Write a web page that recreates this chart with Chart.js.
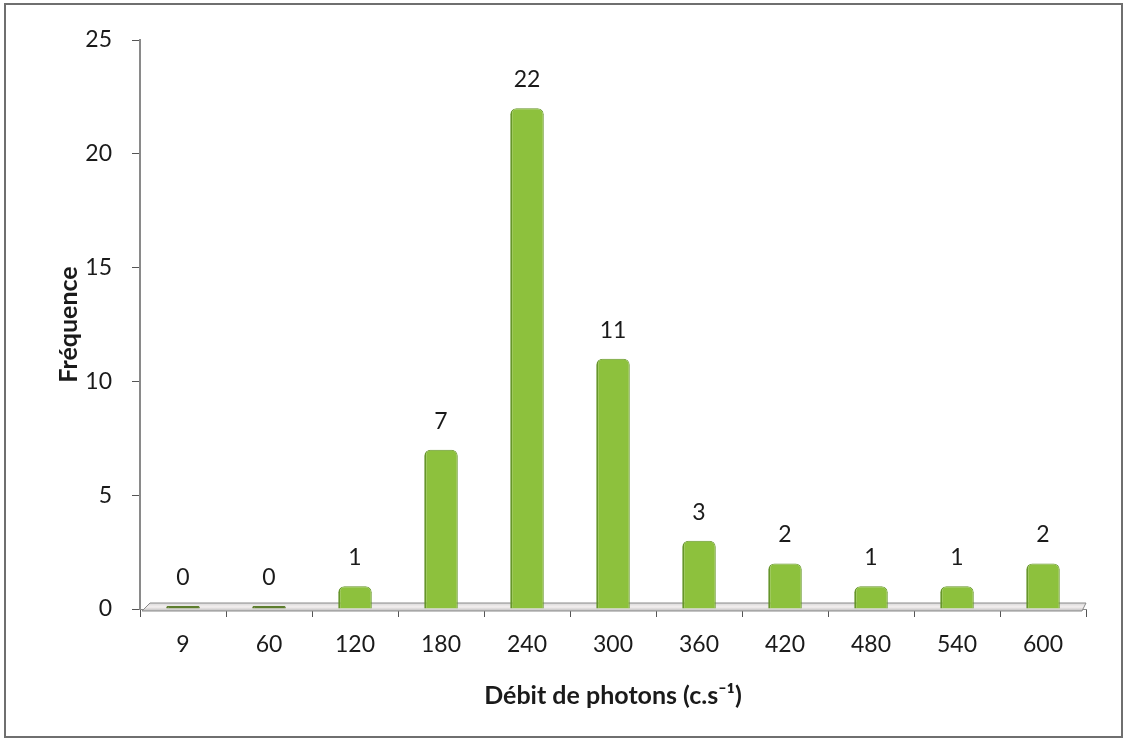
<!DOCTYPE html>
<html>
<head>
<meta charset="utf-8">
<script src="https://cdn.jsdelivr.net/npm/chart.js@4"></script>
<style>
    html, body { margin: 0; padding: 0; background: #fff; }
    #wrap { width: 1125px; height: 739px; position: relative; }
</style>
</head>
<body>
<div id="wrap"><canvas id="chart" width="1125" height="739"></canvas></div>
<script>
// données du graphique
const categories = ['9', '60', '120', '180', '240', '300', '360', '420', '480', '540', '600'];
const frequences = [0, 0, 1, 7, 22, 11, 3, 2, 1, 1, 2];
const yTicks = [0, 5, 10, 15, 20, 25];

const FONT = 'Lato, "Open Sans", sans-serif';

// cadre autour du graphique
const framePlugin = {
    id: 'frame',
    afterDraw(chart) {
        const ctx = chart.ctx;
        ctx.save();
        ctx.strokeStyle = '#6f6f6f';
        ctx.lineWidth = 2;
        ctx.strokeRect(5, 4, chart.width - 8, chart.height - 6);
        ctx.restore();
    }
};

// plancher 3D sous les barres
const floorPlugin = {
    id: 'floor',
    beforeDatasetsDraw(chart) {
        const { ctx, chartArea } = chart;
        const y0 = chart.scales.y.getPixelForValue(0);
        const l = chartArea.left, r = chartArea.right;
        ctx.save();
        ctx.beginPath();
        ctx.moveTo(l + 2, y0 + 2);
        ctx.lineTo(l + 10, y0 - 6);
        ctx.lineTo(r, y0 - 6);
        ctx.lineTo(r - 4, y0 + 2);
        ctx.closePath();
        const g = ctx.createLinearGradient(0, y0 - 6, 0, y0 + 2);
        g.addColorStop(0, '#d8d8d8');
        g.addColorStop(0.5, '#f4f0f0');
        g.addColorStop(1, '#bdbdbd');
        ctx.fillStyle = g;
        ctx.fill();
        ctx.strokeStyle = '#8a8a8a';
        ctx.lineWidth = 1;
        ctx.stroke();
        ctx.restore();
    }
};

// étiquettes de valeur au-dessus des barres
const labelPlugin = {
    id: 'valueLabels',
    afterDatasetsDraw(chart) {
        const ctx = chart.ctx;
        const meta = chart.getDatasetMeta(0);
        ctx.save();
        ctx.font = '23px ' + FONT;
        ctx.fillStyle = '#1a1a1a';
        ctx.textAlign = 'center';
        ctx.textBaseline = 'bottom';
        meta.data.forEach((bar, i) => {
            ctx.fillText(String(frequences[i]), bar.x, bar.y - 17);
        });
        ctx.restore();
    }
};

new Chart(document.getElementById('chart'), {
    type: 'bar',
    data: {
        labels: categories,
        datasets: [{
            data: frequences,
            backgroundColor: (c) => c.raw === 0 ? '#5d7d2e' : '#8dc13d',
            borderColor: (c) => c.raw === 0 ? '#5d7d2e' : '#66952a',
            borderWidth: { left: 2, top: 1, right: 1, bottom: 0 },
            borderSkipped: 'bottom',
            borderRadius: { topLeft: 6, topRight: 6 },
            minBarLength: 3,
            categoryPercentage: 1,
            barPercentage: 0.39
        }]
    },
    options: {
        responsive: false,
        animation: false,
        devicePixelRatio: 1,
        layout: { padding: { left: 48, right: 39, top: 40, bottom: 28 } },
        plugins: {
            legend: { display: false },
            tooltip: { enabled: false }
        },
        scales: {
            x: {
                grid: { display: true, drawOnChartArea: false, tickLength: 8, color: '#555', offset: true },
                border: { color: '#8a8a8a', width: 1 },
                ticks: { color: '#1a1a1a', font: { family: FONT, size: 23 }, padding: 14 },
                title: {
                    display: true,
                    text: 'Débit de photons (c.s⁻¹)',
                    color: '#1a1a1a',
                    font: { family: FONT, size: 25, weight: 'bold' },
                    padding: { top: 8, bottom: 0 }
                },
                afterFit(scale) { scale.height = 102; }
            },
            y: {
                min: 0,
                max: 25,
                afterBuildTicks(scale) { scale.ticks = yTicks.map(v => ({ value: v })); },
                grid: { display: true, drawOnChartArea: false, tickLength: 8, color: '#555' },
                border: { color: '#8a8a8a', width: 2 },
                ticks: { color: '#1a1a1a', font: { family: FONT, size: 23 }, padding: 20 },
                title: {
                    display: true,
                    text: 'Fréquence',
                    color: '#1a1a1a',
                    font: { family: FONT, size: 25, weight: 'bold' },
                    padding: { top: 6, bottom: 0 }
                },
                afterFit(scale) { scale.width = 92; }
            }
        }
    },
    plugins: [framePlugin, floorPlugin, labelPlugin]
});
</script>
</body>
</html>
